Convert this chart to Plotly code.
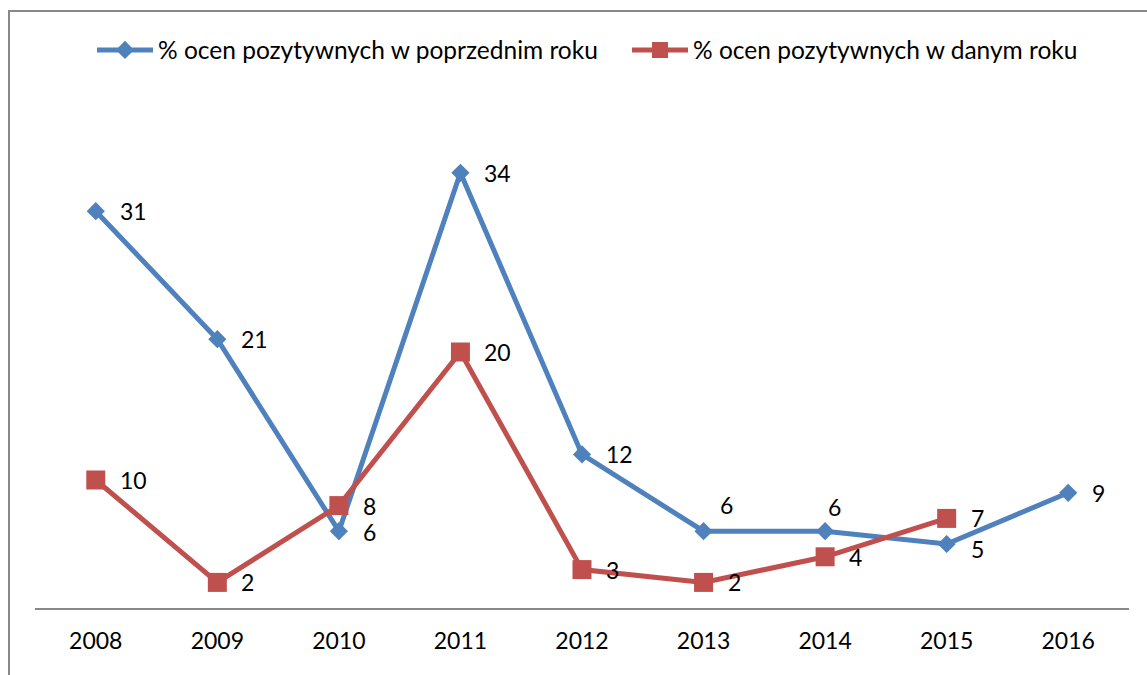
import plotly.graph_objects as go

years = ["2008", "2009", "2010", "2011", "2012", "2013", "2014", "2015", "2016"]
prev_year = [31, 21, 6, 34, 12, 6, 6, 5, 9]
this_year = [10, 2, 8, 20, 3, 2, 4, 7]
name_prev = "% ocen pozytywnych w poprzednim roku"
name_this = "% ocen pozytywnych w danym roku"

# label placement (style only): (xshift px, yshift px)
prev_label_shift = [(22, 0), (22, 0), (22, -1), (22, 0), (22, 0), (14, 26), (1, 24), (22, -5), (22, 0)]
this_label_shift = [(22, 0), (22, 0), (22, 0), (22, 0), (22, 0), (22, 0), (22, 0), (22, 0)]

BLUE = "#4F81BD"
RED = "#C0504D"
FONT = "Lato"
FS = 23
LEG_FS = 24.5
ITEMW = 56

fig = go.Figure()
fig.add_trace(go.Scatter(
    x=years, y=prev_year, name=name_prev, mode="lines+markers",
    line=dict(color=BLUE, width=5),
    marker=dict(symbol="diamond", size=14, color=BLUE),
    legend="legend",
))
fig.add_trace(go.Scatter(
    x=years[:len(this_year)], y=this_year, name=name_this, mode="lines+markers",
    line=dict(color=RED, width=5),
    marker=dict(symbol="square", size=19, color=RED),
    legend="legend2",
))

annotations = []
for ys, shifts in ((prev_year, prev_label_shift), (this_year, this_label_shift)):
    for i, yv in enumerate(ys):
        dx, dy = shifts[i]
        annotations.append(dict(
            x=i, y=yv, xref="x", yref="y", text=str(yv), showarrow=False,
            xanchor="left", yanchor="middle", xshift=dx, yshift=dy,
            font=dict(family=FONT, size=FS, color="black"),
        ))

W, H = 1147, 675
L, R, T, B = 35, 18, 96, 67
pw, ph = W - L - R, H - T - B

def px2paper_x(px):
    return (px - L) / pw

def px2paper_y(py):
    return (H - B - py) / ph

leg_common = dict(
    orientation="h", xanchor="left", y=px2paper_y(50), yanchor="middle",
    font=dict(family=FONT, size=LEG_FS, color="black"),
    itemwidth=ITEMW, bgcolor="rgba(0,0,0,0)",
)

fig.update_layout(
    width=W, height=H,
    margin=dict(l=L, r=R, t=T, b=B),
    plot_bgcolor="white", paper_bgcolor="white",
    font=dict(family=FONT, size=FS, color="black"),
    showlegend=True,
    legend=dict(x=px2paper_x(158 - ITEMW - 10), **leg_common),
    legend2=dict(x=px2paper_x(693 - ITEMW - 10), **leg_common),
    xaxis=dict(
        type="category", range=[-0.5, len(years) - 0.5],
        showgrid=False, zeroline=False, showline=True,
        linecolor="#888888", linewidth=2, ticks="",
        ticklabelstandoff=11,
        tickfont=dict(family=FONT, size=FS, color="black"),
        fixedrange=True,
    ),
    yaxis=dict(
        range=[0, 40], visible=False, showgrid=False, zeroline=False,
        fixedrange=True,
    ),
    annotations=annotations,
    shapes=[dict(
        type="rect", xref="paper", yref="paper",
        x0=px2paper_x(9), x1=px2paper_x(1160),
        y0=px2paper_y(690), y1=px2paper_y(11),
        line=dict(color="#888888", width=2), fillcolor="rgba(0,0,0,0)",
        layer="below",
    )],
)

fig.write_html("out.html", config={"displayModeBar": False},
               post_script="document.body.style.margin='0';")
